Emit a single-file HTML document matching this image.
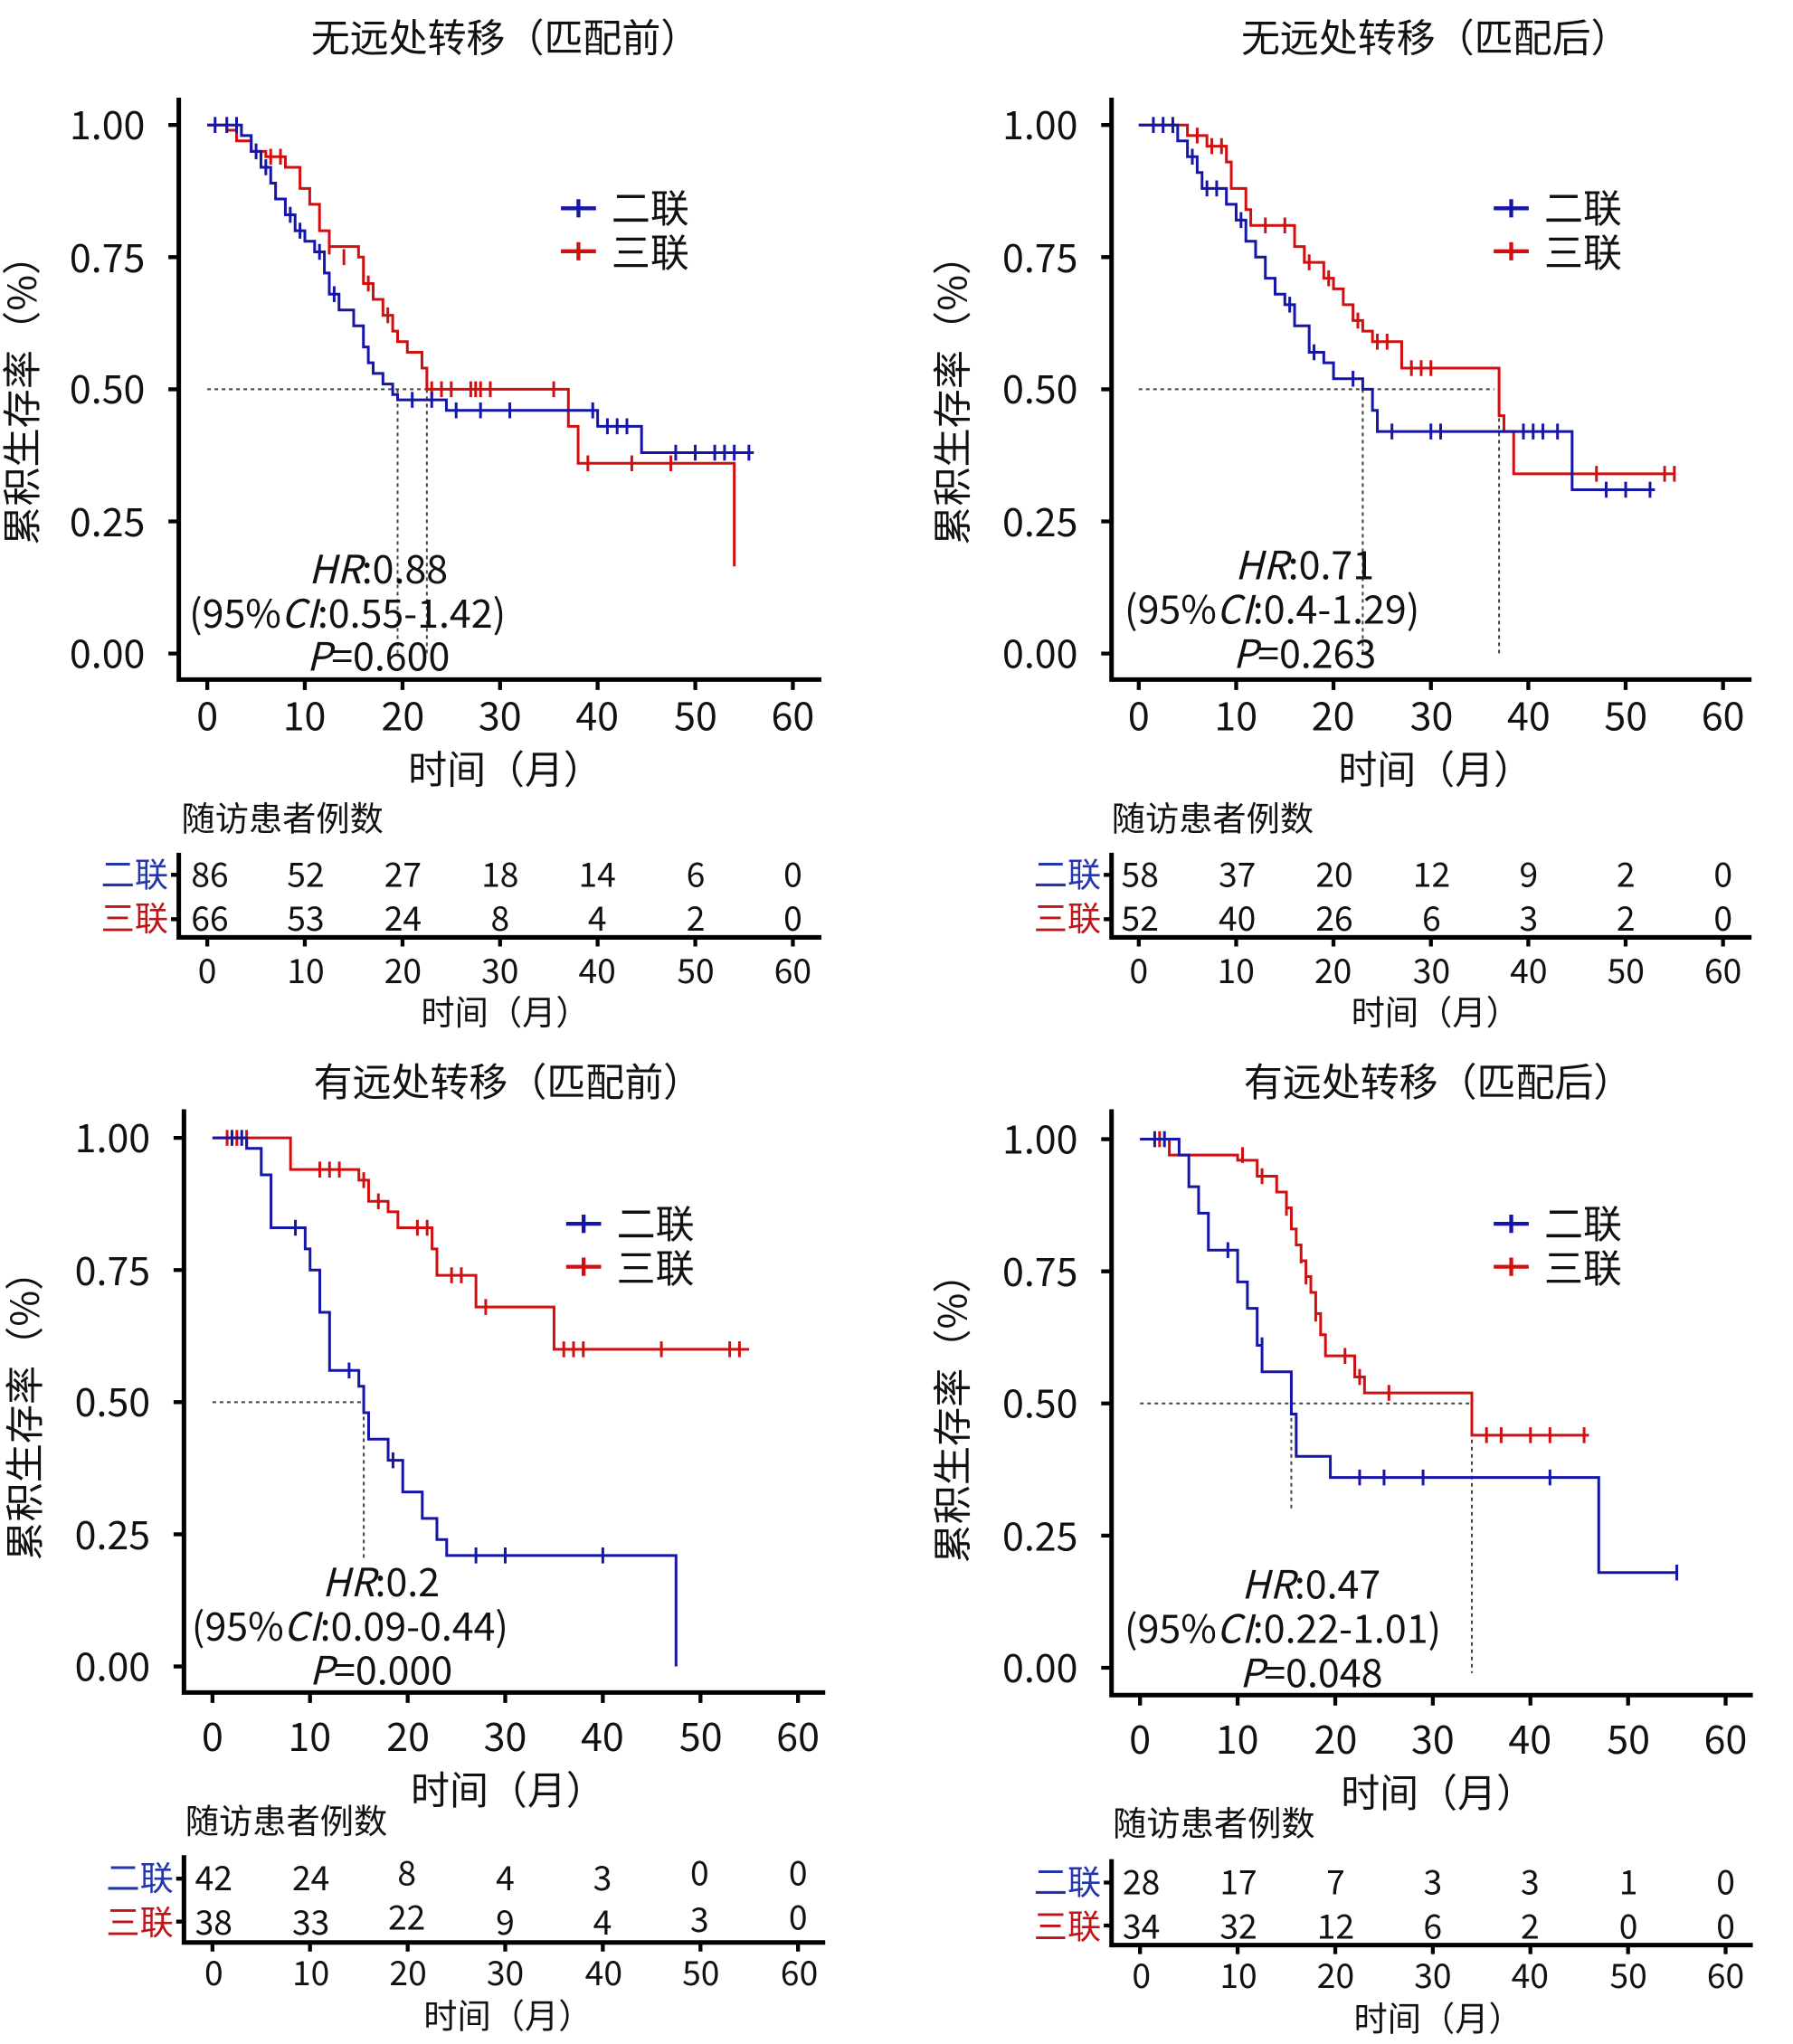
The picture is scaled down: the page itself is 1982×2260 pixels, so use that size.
<!DOCTYPE html>
<html><head><meta charset="utf-8"><style>
html,body{margin:0;padding:0;background:#fff}
svg{display:block}
text{font-family:"Noto Sans CJK SC","Liberation Sans",sans-serif;fill:#111}
.t{font-size:30px}
.tk{font-size:30px}
.rk{font-size:26px}
.b{fill:#2436a8}.r{fill:#c01418}
</style></head><body>
<svg width="1982" height="2260" viewBox="0 0 1384 1570" preserveAspectRatio="none" xmlns="http://www.w3.org/2000/svg">

<!-- ============ PANEL TL ============ -->
<g>
<text class="t" x="390" y="40" text-anchor="middle">无远处转移（匹配前）</text>
<path d="M138 75V522H634" stroke="#000" stroke-width="3.5" fill="none"/>
<g stroke="#000" stroke-width="3"><path d="M130 96H138M130 197.5H138M130 299H138M130 400.5H138M130 502H138"/>
<path d="M160 522V530M235.3 522V530M310.7 522V530M386 522V530M461.3 522V530M536.7 522V530M612 522V530"/></g>
<g class="tk" text-anchor="end"><text x="112" y="107">1.00</text><text x="112" y="209">0.75</text><text x="112" y="310">0.50</text><text x="112" y="412">0.25</text><text x="112" y="513">0.00</text></g>
<g class="tk" text-anchor="middle"><text x="160" y="561">0</text><text x="235" y="561">10</text><text x="311" y="561">20</text><text x="386" y="561">30</text><text x="461" y="561">40</text><text x="537" y="561">50</text><text x="612" y="561">60</text></g>
<text class="t" x="390" y="602" text-anchor="middle">时间（月）</text>
<text class="t" transform="translate(28,300) rotate(-90)" text-anchor="middle">累积生存率（%）</text>
<g transform="translate(160,502) scale(7.533,-406)" fill="none">
<path vector-effect="non-scaling-stroke" stroke="#444" stroke-width="2" stroke-dasharray="4,4" d="M0 0.5H22.5M19.5 0.5V0M22.5 0.5V0"/>
<path vector-effect="non-scaling-stroke" stroke="#d01010" stroke-width="3" d="M0 1H2V0.99H3V0.97H4.5V0.95H6V0.94H8V0.92H9.5V0.88H10.5V0.85H11.5V0.80H12.5V0.77H15.5V0.75H16V0.70H17V0.67H18V0.64H19V0.61H19.5V0.59H20.5V0.57H22V0.54H22.5V0.50H37V0.43H38V0.36H54V0.18M6.5 0.925V0.955M7.5 0.925V0.955M12.5 0.755V0.785M14 0.735V0.765M16.5 0.685V0.715M18.5 0.625V0.655M23 0.485V0.515M24 0.485V0.515M25 0.485V0.515M27 0.485V0.515M27.5 0.485V0.515M28 0.485V0.515M29 0.485V0.515M35.5 0.485V0.515M39 0.345V0.375M43.5 0.345V0.375M47.5 0.345V0.375M54 0.165V0.195"/>
<path vector-effect="non-scaling-stroke" stroke="#1515a8" stroke-width="3" d="M0 1H3.5V0.98H4.5V0.95H5.5V0.92H6.5V0.89H7V0.86H8V0.83H9V0.80H10V0.78H11V0.76H12V0.72H12.5V0.68H13.5V0.65H15V0.62H16V0.58H16.5V0.55H17V0.53H18V0.51H19V0.49H19.5V0.48H24.5V0.46H40V0.43H44.5V0.38H56M0.8 0.985V1.015M2 0.985V1.015M3 0.985V1.015M5 0.935V0.965M6 0.905V0.935M8.5 0.815V0.845M9.5 0.785V0.815M11.5 0.745V0.775M13 0.665V0.695M21 0.465V0.495M23 0.465V0.495M25.5 0.445V0.475M28 0.445V0.475M31 0.445V0.475M39.5 0.445V0.475M41 0.415V0.445M42 0.415V0.445M43 0.415V0.445M48 0.365V0.395M50 0.365V0.395M52 0.365V0.395M53 0.365V0.395M54 0.365V0.395M55.5 0.365V0.395"/>
</g>
<path d="M433 160H460M446.5 153V167" stroke="#1515a8" stroke-width="3"/><path d="M433 193H460M446.5 186V200" stroke="#d01010" stroke-width="3"/>
<text class="t" x="472" y="171">二联</text><text class="t" x="472" y="205">三联</text>
<text class="t" x="292" y="448" text-anchor="middle"><tspan font-style="italic">HR</tspan>:0.88</text>
<text class="t" x="146" y="482">(95%<tspan font-style="italic">CI</tspan>:0.55-1.42)</text>
<text class="t" x="292" y="515" text-anchor="middle"><tspan font-style="italic">P</tspan>=0.600</text>
<text class="rk" x="140" y="638">随访患者例数</text>
<path d="M138 655V720H634" stroke="#000" stroke-width="3.5" fill="none"/>
<g stroke="#000" stroke-width="3"><path d="M132 672H138M132 706H138M160 720V727M235.3 720V727M310.7 720V727M386 720V727M461.3 720V727M536.7 720V727M612 720V727"/></g>
<text class="rk b" x="130" y="681" text-anchor="end">二联</text><text class="rk r" x="130" y="715" text-anchor="end">三联</text>
<g class="rk b" text-anchor="middle"><text x="162" y="681">86</text><text x="236" y="681">52</text><text x="311" y="681">27</text><text x="386" y="681">18</text><text x="461" y="681">14</text><text x="537" y="681">6</text><text x="612" y="681">0</text></g>
<g class="rk r" text-anchor="middle"><text x="162" y="715">66</text><text x="236" y="715">53</text><text x="311" y="715">24</text><text x="386" y="715">8</text><text x="461" y="715">4</text><text x="537" y="715">2</text><text x="612" y="715">0</text></g>
<g class="rk" text-anchor="middle"><text x="160" y="755">0</text><text x="236" y="755">10</text><text x="311" y="755">20</text><text x="386" y="755">30</text><text x="461" y="755">40</text><text x="537" y="755">50</text><text x="612" y="755">60</text></g>
<text class="rk" x="390" y="787" text-anchor="middle">时间（月）</text>
</g>

<!-- ============ PANEL TR ============ -->
<g>
<text class="t" x="1108" y="40" text-anchor="middle">无远处转移（匹配后）</text>
<path d="M858 75V522H1352" stroke="#000" stroke-width="3.5" fill="none"/>
<g stroke="#000" stroke-width="3"><path d="M850 96H858M850 197.5H858M850 299H858M850 400.5H858M850 502H858"/>
<path d="M879 522V530M954.2 522V530M1029.3 522V530M1104.5 522V530M1179.7 522V530M1254.8 522V530M1330 522V530"/></g>
<g class="tk" text-anchor="end"><text x="832" y="107">1.00</text><text x="832" y="209">0.75</text><text x="832" y="310">0.50</text><text x="832" y="412">0.25</text><text x="832" y="513">0.00</text></g>
<g class="tk" text-anchor="middle"><text x="879" y="561">0</text><text x="954" y="561">10</text><text x="1029" y="561">20</text><text x="1105" y="561">30</text><text x="1180" y="561">40</text><text x="1255" y="561">50</text><text x="1330" y="561">60</text></g>
<text class="t" x="1108" y="602" text-anchor="middle">时间（月）</text>
<text class="t" transform="translate(746,300) rotate(-90)" text-anchor="middle">累积生存率（%）</text>
<g transform="translate(879,502) scale(7.517,-406)" fill="none">
<path vector-effect="non-scaling-stroke" stroke="#444" stroke-width="2" stroke-dasharray="4,4" d="M0 0.5H36.5M23 0.5V0M37 0.5V0"/>
<path vector-effect="non-scaling-stroke" stroke="#d01010" stroke-width="3" d="M0 1H5V0.98H7V0.96H9V0.93H9.5V0.88H11V0.84H11.5V0.81H16V0.77H17V0.74H19V0.71H20V0.69H21V0.66H22V0.63H23V0.61H24V0.59H27V0.54H37V0.45H37.5V0.42H38.5V0.34H55M6 0.965V0.995M7.5 0.945V0.975M8.5 0.945V0.975M13 0.795V0.825M15 0.795V0.825M17.5 0.725V0.755M19.5 0.695V0.725M22.5 0.615V0.645M24.5 0.575V0.605M25.5 0.575V0.605M28 0.525V0.555M29 0.525V0.555M30 0.525V0.555M47 0.325V0.355M54 0.325V0.355M55 0.325V0.355"/>
<path vector-effect="non-scaling-stroke" stroke="#1515a8" stroke-width="3" d="M0 1H4V0.97H5V0.94H6V0.91H6.5V0.88H9V0.85H10V0.82H11V0.78H12V0.75H13V0.71H14V0.68H15V0.66H16V0.62H17.5V0.57H19V0.55H20V0.52H23V0.50H24V0.46H24.5V0.42H44.5V0.31H53M1.5 0.985V1.015M2.5 0.985V1.015M3.5 0.985V1.015M5.5 0.925V0.955M7 0.865V0.895M8 0.865V0.895M10.5 0.805V0.835M15.5 0.645V0.675M18 0.555V0.585M22 0.505V0.535M26 0.405V0.435M30 0.405V0.435M31 0.405V0.435M39.5 0.405V0.435M40.5 0.405V0.435M41.5 0.405V0.435M43 0.405V0.435M48 0.295V0.325M50 0.295V0.325M52.5 0.295V0.325"/>
</g>
<path d="M1153 160H1180M1166.5 153V167" stroke="#1515a8" stroke-width="3"/><path d="M1153 193H1180M1166.5 186V200" stroke="#d01010" stroke-width="3"/>
<text class="t" x="1192" y="171">二联</text><text class="t" x="1192" y="205">三联</text>
<text class="t" x="1007" y="445" text-anchor="middle"><tspan font-style="italic">HR</tspan>:0.71</text>
<text class="t" x="868" y="479">(95%<tspan font-style="italic">CI</tspan>:0.4-1.29)</text>
<text class="t" x="1007" y="513" text-anchor="middle"><tspan font-style="italic">P</tspan>=0.263</text>
<text class="rk" x="858" y="638">随访患者例数</text>
<path d="M858 655V720H1352" stroke="#000" stroke-width="3.5" fill="none"/>
<g stroke="#000" stroke-width="3"><path d="M852 672H858M852 706H858M879 720V727M954.2 720V727M1029.3 720V727M1104.5 720V727M1179.7 720V727M1254.8 720V727M1330 720V727"/></g>
<text class="rk b" x="850" y="681" text-anchor="end">二联</text><text class="rk r" x="850" y="715" text-anchor="end">三联</text>
<g class="rk b" text-anchor="middle"><text x="880" y="681">58</text><text x="955" y="681">37</text><text x="1030" y="681">20</text><text x="1105" y="681">12</text><text x="1180" y="681">9</text><text x="1255" y="681">2</text><text x="1330" y="681">0</text></g>
<g class="rk r" text-anchor="middle"><text x="880" y="715">52</text><text x="955" y="715">40</text><text x="1030" y="715">26</text><text x="1105" y="715">6</text><text x="1180" y="715">3</text><text x="1255" y="715">2</text><text x="1330" y="715">0</text></g>
<g class="rk" text-anchor="middle"><text x="879" y="755">0</text><text x="954" y="755">10</text><text x="1029" y="755">20</text><text x="1105" y="755">30</text><text x="1180" y="755">40</text><text x="1255" y="755">50</text><text x="1330" y="755">60</text></g>
<text class="rk" x="1108" y="787" text-anchor="middle">时间（月）</text>
</g>

<!-- ============ PANEL BL ============ -->
<g>
<text class="t" x="392" y="842" text-anchor="middle">有远处转移（匹配前）</text>
<path d="M142 852V1300H637" stroke="#000" stroke-width="3.5" fill="none"/>
<g stroke="#000" stroke-width="3"><path d="M134 874H142M134 975.5H142M134 1077H142M134 1178.5H142M134 1280H142"/>
<path d="M164 1300V1308M239.3 1300V1308M314.7 1300V1308M390 1300V1308M465.3 1300V1308M540.7 1300V1308M616 1300V1308"/></g>
<g class="tk" text-anchor="end"><text x="116" y="885">1.00</text><text x="116" y="987">0.75</text><text x="116" y="1088">0.50</text><text x="116" y="1190">0.25</text><text x="116" y="1291">0.00</text></g>
<g class="tk" text-anchor="middle"><text x="164" y="1345">0</text><text x="239" y="1345">10</text><text x="315" y="1345">20</text><text x="390" y="1345">30</text><text x="465" y="1345">40</text><text x="541" y="1345">50</text><text x="616" y="1345">60</text></g>
<text class="t" x="392" y="1386" text-anchor="middle">时间（月）</text>
<text class="t" transform="translate(30,1080) rotate(-90)" text-anchor="middle">累积生存率（%）</text>
<g transform="translate(164,1280) scale(7.533,-406)" fill="none">
<path vector-effect="non-scaling-stroke" stroke="#444" stroke-width="2" stroke-dasharray="4,4" d="M0 0.5H15.5M15.5 0.5V0.2"/>
<path vector-effect="non-scaling-stroke" stroke="#d01010" stroke-width="3" d="M0 1H8V0.94H15V0.92H16V0.88H18V0.86H19V0.83H22.5V0.79H23V0.74H27V0.68H35V0.60H55M1.5 0.985V1.015M2.5 0.985V1.015M3.5 0.985V1.015M11 0.925V0.955M12 0.925V0.955M13 0.925V0.955M15.5 0.905V0.935M17 0.865V0.895M21 0.815V0.845M22 0.815V0.845M24.5 0.725V0.755M25.5 0.725V0.755M28 0.665V0.695M36 0.585V0.615M37 0.585V0.615M38 0.585V0.615M46 0.585V0.615M53 0.585V0.615M54 0.585V0.615"/>
<path vector-effect="non-scaling-stroke" stroke="#1515a8" stroke-width="3" d="M0 1H3.5V0.98H5V0.93H6V0.83H9.5V0.79H10V0.75H11V0.67H12V0.56H15V0.53H15.5V0.48H16V0.43H18V0.39H19.5V0.33H21.5V0.28H23V0.24H24V0.21H47.5V0M2 0.985V1.015M3 0.985V1.015M8.5 0.815V0.845M14 0.545V0.575M18.5 0.375V0.405M27 0.195V0.225M30 0.195V0.225M40 0.195V0.225"/>
</g>
<path d="M437 940H464M450.5 933V947" stroke="#1515a8" stroke-width="3"/><path d="M437 973H464M450.5 966V980" stroke="#d01010" stroke-width="3"/>
<text class="t" x="476" y="951">二联</text><text class="t" x="476" y="985">三联</text>
<text class="t" x="294" y="1226" text-anchor="middle"><tspan font-style="italic">HR</tspan>:0.2</text>
<text class="t" x="148" y="1260">(95%<tspan font-style="italic">CI</tspan>:0.09-0.44)</text>
<text class="t" x="294" y="1294" text-anchor="middle"><tspan font-style="italic">P</tspan>=0.000</text>
<text class="rk" x="143" y="1408">随访患者例数</text>
<path d="M142 1425V1492H637" stroke="#000" stroke-width="3.5" fill="none"/>
<g stroke="#000" stroke-width="3"><path d="M136 1443H142M136 1476H142M164 1492V1499M239.3 1492V1499M314.7 1492V1499M390 1492V1499M465.3 1492V1499M540.7 1492V1499M616 1492V1499"/></g>
<text class="rk b" x="134" y="1452" text-anchor="end">二联</text><text class="rk r" x="134" y="1486" text-anchor="end">三联</text>
<g class="rk b" text-anchor="middle"><text x="165" y="1452">42</text><text x="240" y="1452">24</text><text x="314" y="1448">8</text><text x="390" y="1452">4</text><text x="465" y="1452">3</text><text x="540" y="1448">0</text><text x="616" y="1448">0</text></g>
<g class="rk r" text-anchor="middle"><text x="165" y="1486">38</text><text x="240" y="1486">33</text><text x="314" y="1482">22</text><text x="390" y="1486">9</text><text x="465" y="1486">4</text><text x="540" y="1484">3</text><text x="616" y="1482">0</text></g>
<g class="rk" text-anchor="middle"><text x="165" y="1525">0</text><text x="240" y="1525">10</text><text x="315" y="1525">20</text><text x="390" y="1525">30</text><text x="466" y="1525">40</text><text x="541" y="1525">50</text><text x="617" y="1525">60</text></g>
<text class="rk" x="392" y="1558" text-anchor="middle">时间（月）</text>
</g>

<!-- ============ PANEL BR ============ -->
<g>
<text class="t" x="1110" y="842" text-anchor="middle">有远处转移（匹配后）</text>
<path d="M858 852V1302H1353" stroke="#000" stroke-width="3.5" fill="none"/>
<g stroke="#000" stroke-width="3"><path d="M850 875H858M850 976.5H858M850 1078H858M850 1179.5H858M850 1281H858"/>
<path d="M880 1302V1310M955.3 1302V1310M1030.7 1302V1310M1106 1302V1310M1181.3 1302V1310M1256.7 1302V1310M1332 1302V1310"/></g>
<g class="tk" text-anchor="end"><text x="832" y="886">1.00</text><text x="832" y="988">0.75</text><text x="832" y="1089">0.50</text><text x="832" y="1191">0.25</text><text x="832" y="1292">0.00</text></g>
<g class="tk" text-anchor="middle"><text x="880" y="1347">0</text><text x="955" y="1347">10</text><text x="1031" y="1347">20</text><text x="1106" y="1347">30</text><text x="1181" y="1347">40</text><text x="1257" y="1347">50</text><text x="1332" y="1347">60</text></g>
<text class="t" x="1110" y="1388" text-anchor="middle">时间（月）</text>
<text class="t" transform="translate(746,1082) rotate(-90)" text-anchor="middle">累积生存率（%）</text>
<g transform="translate(880,1281) scale(7.533,-406)" fill="none">
<path vector-effect="non-scaling-stroke" stroke="#444" stroke-width="2" stroke-dasharray="4,4" d="M0 0.5H34M15.5 0.5V0.3M34 0.5V-0.01"/>
<path vector-effect="non-scaling-stroke" stroke="#d01010" stroke-width="3" d="M0 1H3V0.97H10V0.96H12V0.93H14V0.90H15V0.87H15.5V0.83H16V0.80H16.5V0.77H17V0.74H17.5V0.71H18V0.67H18.5V0.63H19V0.59H22V0.55H23V0.52H34V0.44H46M2 0.985V1.015M10.5 0.955V0.985M12.5 0.915V0.945M15 0.855V0.885M16.5 0.765V0.795M17 0.725V0.755M18 0.655V0.685M21 0.575V0.605M22.5 0.535V0.565M25.5 0.505V0.535M35.5 0.425V0.455M37 0.425V0.455M40 0.425V0.455M42 0.425V0.455M45.5 0.425V0.455"/>
<path vector-effect="non-scaling-stroke" stroke="#1515a8" stroke-width="3" d="M0 1H4V0.97H5V0.91H6V0.86H7V0.79H10V0.73H11V0.68H12V0.61H12.5V0.56H15.5V0.48H16V0.40H19.5V0.36H47V0.18H55M1.5 0.985V1.015M2.5 0.985V1.015M9 0.775V0.805M12.5 0.595V0.625M22.5 0.345V0.375M25 0.345V0.375M29 0.345V0.375M42 0.345V0.375M55 0.165V0.195"/>
</g>
<path d="M1153 940H1180M1166.5 933V947" stroke="#1515a8" stroke-width="3"/><path d="M1153 973H1180M1166.5 966V980" stroke="#d01010" stroke-width="3"/>
<text class="t" x="1192" y="951">二联</text><text class="t" x="1192" y="985">三联</text>
<text class="t" x="1012" y="1228" text-anchor="middle"><tspan font-style="italic">HR</tspan>:0.47</text>
<text class="t" x="868" y="1262">(95%<tspan font-style="italic">CI</tspan>:0.22-1.01)</text>
<text class="t" x="1012" y="1296" text-anchor="middle"><tspan font-style="italic">P</tspan>=0.048</text>
<text class="rk" x="859" y="1410">随访患者例数</text>
<path d="M858 1428V1494H1353" stroke="#000" stroke-width="3.5" fill="none"/>
<g stroke="#000" stroke-width="3"><path d="M852 1446H858M852 1479H858M880 1494V1501M955.3 1494V1501M1030.7 1494V1501M1106 1494V1501M1181.3 1494V1501M1256.7 1494V1501M1332 1494V1501"/></g>
<text class="rk b" x="850" y="1455" text-anchor="end">二联</text><text class="rk r" x="850" y="1489" text-anchor="end">三联</text>
<g class="rk b" text-anchor="middle"><text x="881" y="1455">28</text><text x="956" y="1455">17</text><text x="1031" y="1455">7</text><text x="1106" y="1455">3</text><text x="1181" y="1455">3</text><text x="1257" y="1455">1</text><text x="1332" y="1455">0</text></g>
<g class="rk r" text-anchor="middle"><text x="881" y="1489">34</text><text x="956" y="1489">32</text><text x="1031" y="1489">12</text><text x="1106" y="1489">6</text><text x="1181" y="1489">2</text><text x="1257" y="1489">0</text><text x="1332" y="1489">0</text></g>
<g class="rk" text-anchor="middle"><text x="881" y="1527">0</text><text x="956" y="1527">10</text><text x="1031" y="1527">20</text><text x="1106" y="1527">30</text><text x="1181" y="1527">40</text><text x="1257" y="1527">50</text><text x="1332" y="1527">60</text></g>
<text class="rk" x="1110" y="1560" text-anchor="middle">时间（月）</text>
</g>
</svg>
</body></html>
